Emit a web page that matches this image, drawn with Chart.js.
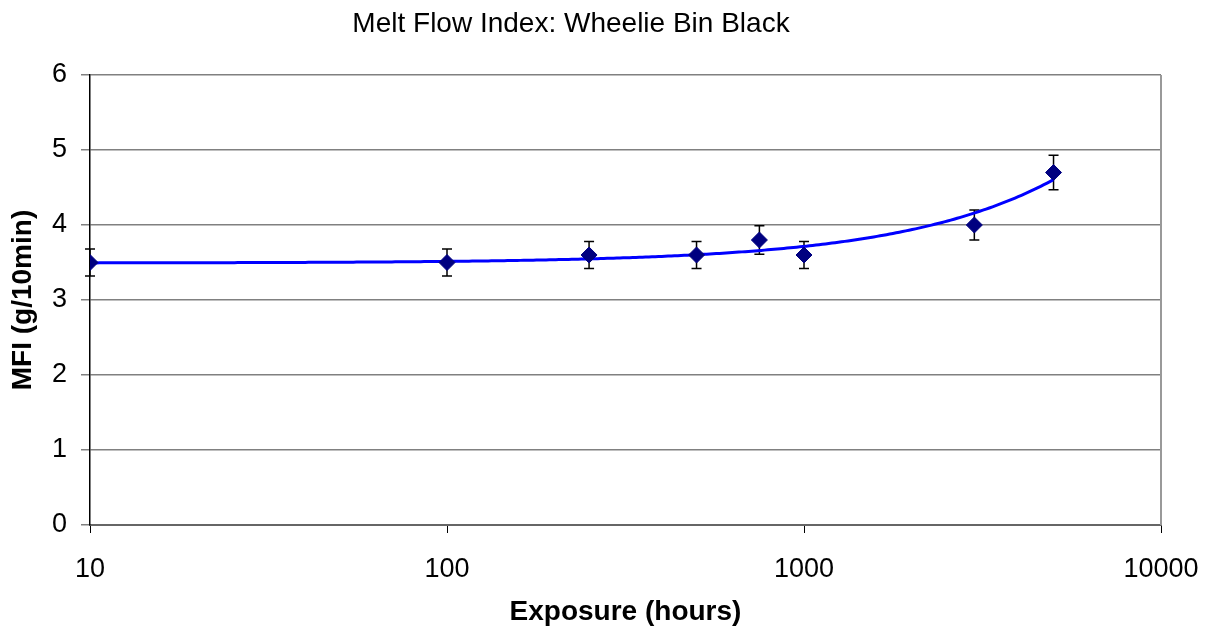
<!DOCTYPE html>
<html>
<head>
<meta charset="utf-8">
<title>Melt Flow Index: Wheelie Bin Black</title>
<script src="https://cdn.jsdelivr.net/npm/chart.js@4"></script>
<style>
  html, body { margin: 0; padding: 0; background: #fff; }
  canvas { display: block; }
</style>
</head>
<body>
<canvas id="mfiChart" width="1213" height="632"></canvas>
<script>
// data
const exposureHours = [10, 100, 250, 500, 750, 1000, 3000, 5000];
const mfiValues = [3.5, 3.5, 3.6, 3.6, 3.8, 3.6, 4.0, 4.7];
const mfiErrors = [0.18, 0.18, 0.18, 0.18, 0.19, 0.18, 0.2, 0.23];
const xTickValues = [10, 100, 1000, 10000];

const chartTitle = "Melt Flow Index: Wheelie Bin Black";
const FONT = "'Liberation Sans', Arial, sans-serif";

// linear trendline (least squares on the data, like excel does)
function linearFit(xs, ys) {
  const n = xs.length;
  const mx = xs.reduce((a, b) => a + b, 0) / n;
  const my = ys.reduce((a, b) => a + b, 0) / n;
  let sxy = 0, sxx = 0;
  for (let i = 0; i < n; i++) {
    sxy += (xs[i] - mx) * (ys[i] - my);
    sxx += (xs[i] - mx) * (xs[i] - mx);
  }
  const slope = sxy / sxx;
  return { slope: slope, intercept: my - slope * mx };
}
const fit = linearFit(exposureHours, mfiValues);

const extrasPlugin = {
  id: "extras",
  beforeDatasetsDraw(chart) {
    const { ctx, chartArea, scales } = chart;
    const x = scales.x, y = scales.y;
    ctx.save();

    // right border of plot area
    ctx.strokeStyle = "#999";
    ctx.lineWidth = 2;
    ctx.beginPath();
    ctx.moveTo(chartArea.right, chartArea.top);
    ctx.lineTo(chartArea.right, chartArea.bottom);
    ctx.stroke();

    // error bars
    ctx.strokeStyle = "#000";
    ctx.lineWidth = 1.5;
    exposureHours.forEach((h, i) => {
      const px = x.getPixelForValue(h);
      const top = y.getPixelForValue(mfiValues[i] + mfiErrors[i]);
      const bot = y.getPixelForValue(mfiValues[i] - mfiErrors[i]);
      ctx.beginPath();
      ctx.moveTo(px, top); ctx.lineTo(px, bot);
      ctx.moveTo(px - 5, top); ctx.lineTo(px + 5, top);
      ctx.moveTo(px - 5, bot); ctx.lineTo(px + 5, bot);
      ctx.stroke();
    });

    // trendline, curved because the x axis is log
    const x0 = Math.min(...exposureHours), x1 = Math.max(...exposureHours);
    ctx.strokeStyle = "#0000ff";
    ctx.lineWidth = 3;
    ctx.beginPath();
    const steps = 300;
    for (let s = 0; s <= steps; s++) {
      const h = Math.pow(10, Math.log10(x0) + (Math.log10(x1) - Math.log10(x0)) * s / steps);
      const px = x.getPixelForValue(h);
      const py = y.getPixelForValue(fit.intercept + fit.slope * h);
      if (s === 0) ctx.moveTo(px, py); else ctx.lineTo(px, py);
    }
    ctx.stroke();
    ctx.restore();
  },
  afterDraw(chart) {
    const ctx = chart.ctx;
    ctx.save();
    ctx.fillStyle = "#000";
    ctx.font = "28px " + FONT;
    ctx.textAlign = "center";
    ctx.textBaseline = "middle";
    ctx.fillText(chartTitle, 571, 24);
    ctx.restore();
  }
};

new Chart(document.getElementById("mfiChart"), {
  type: "scatter",
  data: {
    datasets: [
      {
        label: "MFI",
        data: exposureHours.map((h, i) => ({ x: h, y: mfiValues[i] })),
        pointStyle: "rectRot",
        pointRadius: 8,
        pointHoverRadius: 8,
        backgroundColor: "#000080",
        borderColor: "#000080",
        borderWidth: 1,
        showLine: false,
      },
    ],
  },
  options: {
    responsive: false,
    animation: false,
    layout: { padding: { top: 75, right: 52, bottom: 0, left: 0 } },
    plugins: {
      legend: { display: false },
      title: { display: false },
      tooltip: { enabled: false },
    },
    scales: {
      x: {
        type: "logarithmic",
        min: 10,
        max: 10000,
        afterBuildTicks: (scale) => {
          scale.ticks = xTickValues.map((v) => ({ value: v }));
        },
        afterFit: (scale) => {
          scale.height = 107;
          scale.paddingLeft = 0;
          scale.paddingRight = 0;
        },
        ticks: {
          color: "#000",
          font: { family: FONT, size: 27 },
          padding: 20,
          maxRotation: 0,
          autoSkip: false,
          callback: (v) => String(v),
        },
        grid: {
          drawOnChartArea: false,
          drawTicks: true,
          tickLength: 8,
          color: "#000",
        },
        border: { color: "#666", width: 2 },
        title: {
          display: true,
          text: "Exposure (hours)",
          color: "#000",
          font: { family: FONT, size: 28, weight: "bold" },
          padding: { top: 0, bottom: 3 },
        },
      },
      y: {
        min: 0,
        max: 6,
        afterFit: (scale) => { scale.width = 90; },
        ticks: {
          stepSize: 1,
          color: "#000",
          font: { family: FONT, size: 27 },
          padding: 14,
        },
        grid: {
          color: "#808080",
          lineWidth: 1.5,
          tickLength: 9,
        },
        border: { color: "#000", width: 1.5 },
        title: {
          display: true,
          text: "MFI (g/10min)",
          color: "#000",
          font: { family: FONT, size: 28, weight: "bold" },
          padding: { top: 6, bottom: 0 },
        },
      },
    },
  },
  plugins: [extrasPlugin],
});
</script>
</body>
</html>
